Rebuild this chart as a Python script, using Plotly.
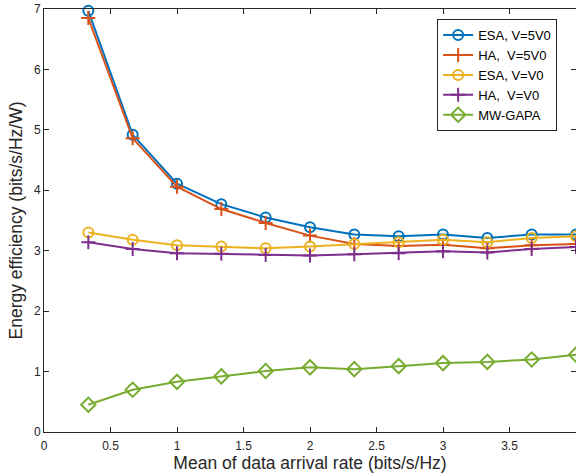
import plotly.graph_objects as go

x_vals = [1/3, 2/3, 1.0, 4/3, 5/3, 2.0, 7/3, 8/3, 3.0, 10/3, 11/3, 4.0]
esa_5v0 = [6.97, 4.92, 4.11, 3.77, 3.55, 3.39, 3.27, 3.24, 3.27, 3.21, 3.27, 3.27]
ha_5v0 = [6.85, 4.86, 4.06, 3.69, 3.46, 3.25, 3.11, 3.08, 3.10, 3.04, 3.09, 3.11]
esa_v0 = [3.30, 3.18, 3.09, 3.07, 3.04, 3.07, 3.11, 3.14, 3.18, 3.14, 3.21, 3.24]
ha_v0 = [3.14, 3.03, 2.96, 2.95, 2.93, 2.92, 2.94, 2.96, 2.99, 2.97, 3.03, 3.06]
mw_gapa = [0.45, 0.70, 0.83, 0.92, 1.01, 1.07, 1.04, 1.09, 1.14, 1.16, 1.20, 1.28]

names = ["ESA, V=5V0", "HA,  V=5V0", "ESA, V=V0", "HA,  V=V0", "MW-GAPA"]
colors = ["#0072BD", "#D95319", "#EDB120", "#7E2F8E", "#77AC30"]
symbols = ["circle-open", "cross-thin-open", "circle-open", "cross-thin-open", "diamond-open"]
sizes = [10, 10, 10, 10, 11]
series = [esa_5v0, ha_5v0, esa_v0, ha_v0, mw_gapa]

x_ticks = [0, 0.5, 1, 1.5, 2, 2.5, 3, 3.5]
x_ticktext = ["0", "0.5", "1", "1.5", "2", "2.5", "3", "3.5"]
y_ticks = [0, 1, 2, 3, 4, 5, 6, 7]

fig = go.Figure()
for name, ys, c, s, sz in zip(names, series, colors, symbols, sizes):
    fig.add_trace(go.Scatter(
        x=x_vals, y=ys, name=name, mode="lines+markers",
        line=dict(color=c, width=2),
        marker=dict(symbol=s, size=sz, color=c, line=dict(color=c, width=2)),
        cliponaxis=False,
    ))

axis_common = dict(
    showgrid=False, zeroline=False, showline=True, linecolor="#262626", linewidth=1,
    mirror="ticks", ticks="inside", ticklen=5, tickcolor="#262626",
    tickfont=dict(family="Liberation Sans, Arial", size=12, color="#262626"),
)

fig.update_layout(
    width=576, height=473,
    margin=dict(l=44, r=0, t=9, b=41),
    paper_bgcolor="white", plot_bgcolor="white",
    font=dict(family="Liberation Sans, Arial", color="#262626"),
    xaxis=dict(range=[0, 4], tickvals=x_ticks, ticktext=x_ticktext,
               ticklabelstandoff=3,
               title=dict(text="Mean of data arrival rate (bits/s/Hz)", font=dict(size=17.5), standoff=2),
               **axis_common),
    yaxis=dict(range=[0, 7], tickvals=y_ticks,
               title=dict(text="Energy efficiency (bits/s/Hz/W)", font=dict(size=17.5), standoff=6),
               **axis_common),
    legend=dict(x=0.739, y=0.976, xanchor="left", yanchor="top",
                bgcolor="white", bordercolor="#262626", borderwidth=1,
                font=dict(family="Liberation Sans, Arial", size=13, color="black"),
                tracegroupgap=0, itemwidth=30),
    showlegend=True,
)

fig.write_html("out.html")
